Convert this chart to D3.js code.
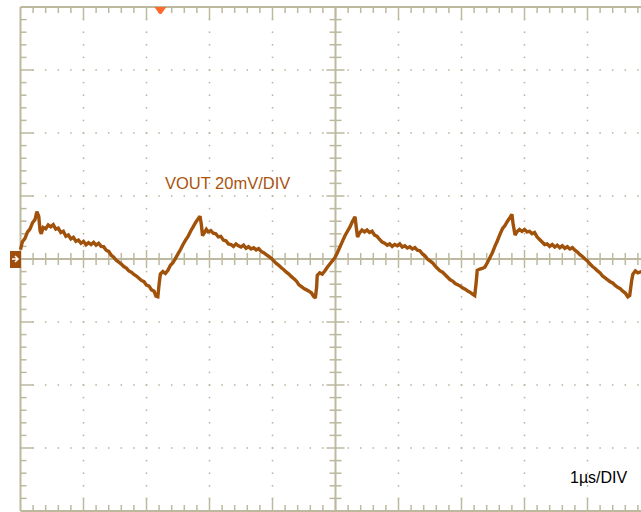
<!DOCTYPE html>
<html><head><meta charset="utf-8">
<script src="https://cdn.jsdelivr.net/npm/d3@7/dist/d3.min.js"></script>
<style>html,body{margin:0;padding:0;background:#fff;overflow:hidden}</style>
</head><body><svg id="c" width="641" height="512"></svg>
<script>
// time in microseconds (1 µs/DIV), VOUT in mV (20 mV/DIV)
const timeUs = [0.00,0.03,0.07,0.11,0.15,0.19,0.23,0.26,0.29,0.31,0.33,0.36,0.40,0.44,0.48,0.52,0.56,0.60,0.64,0.68,0.72,0.76,0.80,0.84,0.88,0.92,0.96,1.00,1.04,1.08,1.12,1.16,1.20,1.24,1.28,1.32,1.36,1.40,1.44,1.48,1.52,1.56,1.60,1.64,1.68,1.72,1.76,1.80,1.84,1.88,1.92,1.96,2.00,2.04,2.08,2.12,2.15,2.18,2.20,2.22,2.26,2.30,2.34,2.38,2.42,2.46,2.50,2.54,2.58,2.62,2.66,2.70,2.74,2.78,2.82,2.85,2.87,2.89,2.92,2.95,2.98,3.02,3.06,3.10,3.14,3.18,3.22,3.26,3.30,3.34,3.38,3.42,3.46,3.50,3.54,3.58,3.62,3.66,3.70,3.74,3.78,3.82,3.86,3.90,3.94,3.98,4.02,4.06,4.10,4.14,4.18,4.22,4.26,4.30,4.34,4.38,4.42,4.46,4.50,4.54,4.58,4.62,4.65,4.68,4.70,4.71,4.75,4.79,4.83,4.87,4.91,4.95,4.99,5.03,5.07,5.11,5.15,5.19,5.23,5.27,5.31,5.33,5.35,5.38,5.42,5.46,5.50,5.54,5.58,5.62,5.66,5.70,5.74,5.78,5.82,5.86,5.90,5.94,5.98,6.02,6.06,6.10,6.14,6.18,6.22,6.26,6.30,6.34,6.38,6.42,6.46,6.50,6.54,6.58,6.62,6.66,6.70,6.74,6.78,6.82,6.86,6.90,6.94,6.98,7.02,7.06,7.10,7.14,7.18,7.21,7.23,7.25,7.29,7.33,7.37,7.41,7.45,7.49,7.53,7.57,7.61,7.65,7.69,7.73,7.77,7.80,7.82,7.85,7.88,7.92,7.96,8.00,8.04,8.08,8.12,8.16,8.20,8.24,8.28,8.32,8.36,8.40,8.44,8.48,8.52,8.56,8.60,8.64,8.68,8.72,8.76,8.80,8.84,8.88,8.92,8.96,9.00,9.04,9.08,9.12,9.16,9.20,9.24,9.28,9.32,9.36,9.40,9.44,9.48,9.52,9.56,9.60,9.64,9.67,9.70,9.72,9.76,9.80,9.86];
const voutMv = [3.0,5.5,6.5,8.5,9.5,11.5,12.5,15.0,13.5,9.0,8.0,10.0,9.6,10.8,10.2,10.9,9.5,9.8,8.4,8.8,7.2,7.6,6.4,6.9,5.6,6.0,5.0,5.6,4.5,5.2,4.6,5.3,4.4,5.0,4.0,3.9,2.8,2.4,1.2,0.6,-0.4,-1.0,-1.6,-2.4,-2.9,-3.8,-4.2,-4.9,-5.4,-6.1,-6.8,-7.2,-8.3,-8.6,-9.8,-10.2,-11.8,-12.0,-8.0,-4.8,-4.0,-4.6,-3.6,-2.0,-1.2,0.2,1.6,3.0,4.6,6.0,7.2,8.8,10.2,11.6,12.8,13.6,11.0,7.4,8.4,9.4,8.6,9.0,8.2,8.0,7.0,7.2,6.0,5.8,4.8,4.6,4.0,4.8,4.2,3.8,4.4,3.4,3.9,3.2,3.6,2.9,3.3,2.4,2.0,1.4,0.8,0.2,-0.6,-1.4,-2.0,-2.8,-3.4,-4.2,-4.8,-5.6,-6.3,-7.0,-8.2,-8.8,-9.4,-9.8,-10.2,-10.8,-11.8,-12.4,-9.0,-5.2,-4.4,-4.8,-3.8,-2.6,-1.6,-0.6,0.4,2.0,3.8,5.6,7.4,8.8,10.2,12.0,13.4,10.0,7.0,8.2,9.2,8.6,9.2,8.4,8.8,7.6,7.2,6.2,5.4,5.0,4.4,4.8,4.0,4.6,4.2,4.8,3.8,4.2,3.5,3.9,3.2,3.6,2.8,2.6,1.6,1.0,0.0,-0.6,-1.2,-2.2,-3.0,-3.8,-4.2,-5.0,-5.8,-6.6,-7.0,-7.8,-8.2,-8.6,-9.2,-9.6,-10.2,-10.6,-11.2,-11.6,-8.0,-3.6,-3.2,-3.0,-2.6,-1.2,0.4,2.0,4.0,5.8,7.8,9.6,10.6,12.0,13.2,14.2,11.0,7.6,8.6,9.4,8.8,9.4,8.6,8.8,8.0,8.4,7.0,6.2,5.4,4.6,4.8,4.0,4.6,3.8,4.4,3.6,4.2,3.4,3.9,3.2,3.6,2.8,2.2,1.4,0.8,0.0,-0.6,-1.6,-2.4,-3.0,-3.8,-4.4,-5.4,-6.0,-6.6,-7.2,-7.6,-8.4,-9.0,-9.4,-10.2,-10.8,-12.0,-11.6,-7.0,-4.8,-3.8,-4.4,-4.0];
const xDivs = d3.range(0, 11, 1);        // µs
const yDivs = d3.range(-80, 81, 20);     // mV
const xMinor = d3.range(0, 10.01, 0.2);
const yMinor = d3.range(-80, 80.01, 4);
const channelLabel = "VOUT 20mV/DIV";
const timeLabel = "1µs/DIV";
const triggerTimeUs = 2.22;

const svg = d3.select("#c");
const x = d3.scaleLinear().domain([0, 10]).range([20.5, 650.5]);
const y = d3.scaleLinear().domain([-80, 80]).range([511, 7]);
const gridCol = "#bdb99f", dotCol = "#b5b29a";
const traceCol = "#a0510a";

const g = svg.append("g");
// dotted grid
const dots = g.append("g").attr("fill", dotCol);
yDivs.filter(v => v !== 0 && Math.abs(v) !== 80).forEach(v => {
  xMinor.forEach(t => dots.append("rect").attr("x", x(t) - 0.75).attr("y", y(v) - 0.75).attr("width", 1.5).attr("height", 1.5));
});
xDivs.filter(t => t !== 0 && t !== 5 && t !== 10).forEach(t => {
  yMinor.forEach(v => dots.append("rect").attr("x", x(t) - 0.75).attr("y", y(v) - 0.75).attr("width", 1.5).attr("height", 1.5));
});

const lines = g.append("g").attr("stroke", gridCol).attr("fill", "none");
// borders
lines.append("line").attr("x1", x(0)).attr("x2", x(10)).attr("y1", y(80)).attr("y2", y(80)).attr("stroke-width", 2);
lines.append("line").attr("x1", x(0)).attr("x2", x(10)).attr("y1", y(-80)).attr("y2", y(-80)).attr("stroke-width", 2);
lines.append("line").attr("x1", x(0)).attr("x2", x(0)).attr("y1", y(80)).attr("y2", y(-80)).attr("stroke-width", 2);
// center axes
lines.append("line").attr("x1", x(0)).attr("x2", x(10)).attr("y1", y(0)).attr("y2", y(0)).attr("stroke-width", 2);
lines.append("line").attr("x1", x(5)).attr("x2", x(5)).attr("y1", y(80)).attr("y2", y(-80)).attr("stroke-width", 2);

const isMajT = t => Math.abs(t - Math.round(t)) < 1e-6;
const isMajV = v => Math.abs(v / 20 - Math.round(v / 20)) < 1e-6;
// ticks on top/bottom borders and center horizontal axis
xMinor.forEach(t => {
  if (t === 0) return;
  const L = isMajT(t) ? 13 : 6;
  lines.append("line").attr("x1", x(t)).attr("x2", x(t)).attr("y1", y(80)).attr("y2", y(80) + L).attr("stroke-width", 1.5);
  lines.append("line").attr("x1", x(t)).attr("x2", x(t)).attr("y1", y(-80)).attr("y2", y(-80) - L).attr("stroke-width", 1.5);
  const c = isMajT(t) ? 9 : 6;
  lines.append("line").attr("x1", x(t)).attr("x2", x(t)).attr("y1", y(0) - c).attr("y2", y(0) + c).attr("stroke-width", 1.5);
});
yMinor.forEach(v => {
  if (Math.abs(v) === 80) return;
  const L = isMajV(v) ? 13 : 6;
  lines.append("line").attr("x1", x(0)).attr("x2", x(0) + L).attr("y1", y(v)).attr("y2", y(v)).attr("stroke-width", 1.5);
  const c = isMajV(v) ? 9 : 6;
  lines.append("line").attr("x1", x(5) - c).attr("x2", x(5) + c).attr("y1", y(v)).attr("y2", y(v)).attr("stroke-width", 1.5);
});

// trace
const pts = timeUs.map((t, i) => [t, voutMv[i]]);
svg.append("path").datum(pts)
  .attr("fill", "none").attr("stroke", traceCol).attr("stroke-width", 3.4)
  .attr("stroke-linejoin", "miter").attr("stroke-miterlimit", 2)
  .attr("d", d3.line().x(d => x(d[0])).y(d => y(d[1])));

// trigger marker (top)
const tx = x(triggerTimeUs);
svg.append("path").attr("fill", "#ff6a2c")
  .attr("d", `M${tx - 6},${y(80)} L${tx + 6},${y(80)} L${tx + 1},${y(80) + 7} L${tx - 1},${y(80) + 7} Z`);

// channel ground marker (left)
const gy = y(0);
svg.append("rect").attr("x", 10).attr("y", gy - 8).attr("width", 11).attr("height", 17).attr("fill", "#9f4f0a");
svg.append("path").attr("fill", "none").attr("stroke", "#fff").attr("stroke-width", 1.5)
  .attr("d", `M12,${gy} L18,${gy} M15,${gy - 3} L18,${gy} L15,${gy + 3}`);

// labels
svg.append("text").attr("x", 165).attr("y", 188.5).attr("font-family", "Liberation Sans, Arial, sans-serif")
  .attr("font-size", 16.5).attr("fill", "#a9540f").text(channelLabel);
svg.append("text").attr("x", 570).attr("y", 483).attr("font-family", "Liberation Sans, Arial, sans-serif")
  .attr("font-size", 16).attr("fill", "#000").text(timeLabel);
</script></body></html>
